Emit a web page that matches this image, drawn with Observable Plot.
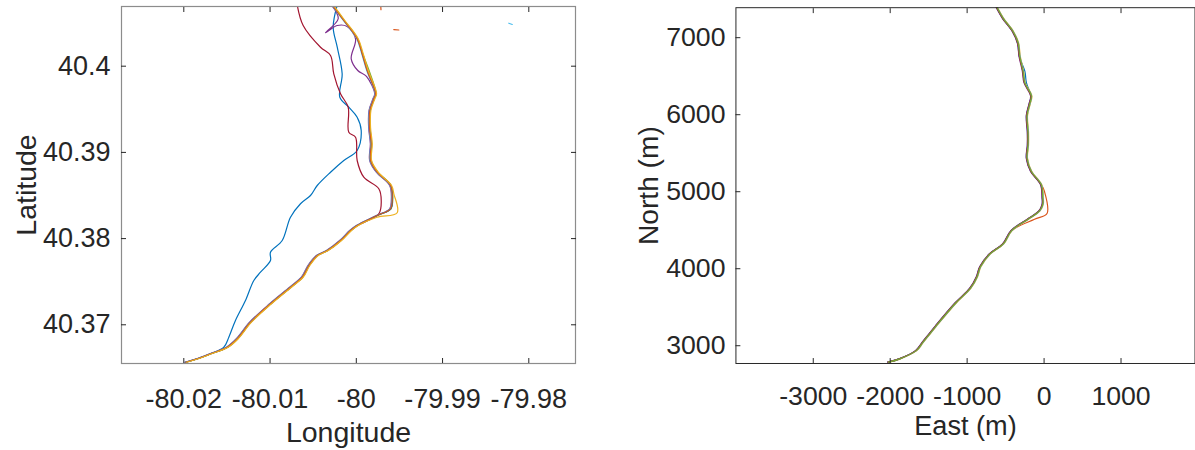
<!DOCTYPE html>
<html><head><meta charset="utf-8">
<script src="https://cdn.jsdelivr.net/npm/d3@7"></script>
<script src="https://cdn.jsdelivr.net/npm/@observablehq/plot@0.6"></script>
<style>
html,body{margin:0;padding:0;background:#fff;overflow:hidden}
#wrap{position:relative;width:1195px;height:450px;overflow:hidden;background:#fff}
#left{position:absolute;left:0;top:0}
#right{position:absolute;left:600px;top:0}
</style></head><body><div id="wrap"><div id="left"></div><div id="right"></div></div>
<script>
// ---------- Left panel: Latitude / Longitude ----------
const lonTicks = [-80.02, -80.01, -80, -79.99, -79.98];
const lonTickLabels = ["-80.02", "-80.01", "-80", "-79.99", "-79.98"];
const latTicks = [40.37, 40.38, 40.39, 40.4];
const latTickLabels = ["40.37", "40.38", "40.39", "40.4"];

const latMain = [40.40710,40.40530,40.40318,40.40144,40.39950,40.39680,40.39622,40.39486,40.39292,40.39100,40.38906,40.38770,40.38616,40.38442,40.38346,40.38268,40.38152,40.38094,40.37978,40.37862,40.37804,40.37688,40.37552,40.37436,40.37244,40.37030,40.36838,40.36740,40.36664,40.36606,40.36566];
const lonOrange = [-80.00279,-80.00145,-79.99990,-79.99932,-79.99874,-79.99777,-79.99797,-79.99843,-79.99847,-79.99827,-79.99835,-79.99758,-79.99603,-79.99584,-79.99603,-79.99758,-79.99990,-80.00067,-80.00183,-80.00337,-80.00453,-80.00551,-80.00627,-80.00763,-80.00995,-80.01227,-80.01381,-80.01497,-80.01690,-80.01845,-80.01980];
const lonGreen = [-80.00273,-80.00139,-79.99984,-79.99926,-79.99852,-79.99771,-79.99791,-79.99837,-79.99841,-79.99821,-79.99829,-79.99752,-79.99597,-79.99578,-79.99597,-79.99752,-79.99984,-80.00061,-80.00177,-80.00331,-80.00447,-80.00545,-80.00621,-80.00757,-80.00989,-80.01221,-80.01375,-80.01491,-80.01684,-80.01839,-80.01974];
const lonLightBlue = [-80.00284,-80.00150,-79.99995,-79.99937,-79.99879,-79.99782,-79.99802,-79.99848,-79.99852,-79.99832,-79.99840,-79.99763,-79.99608,-79.99589,-79.99608,-79.99763,-79.99995,-80.00072,-80.00188,-80.00342,-80.00458,-80.00556,-80.00632,-80.00768,-80.01000,-80.01232,-80.01386,-80.01502,-80.01695,-80.01850,-80.01985];
const lonBlue2 = [-80.00276,-80.00142,-79.99987,-79.99929,-79.99871,-79.99774,-79.99794,-79.99840,-79.99844,-79.99824,-79.99832,-79.99755,-79.99600,-79.99581,-79.99600,-79.99755,-79.99987,-80.00064,-80.00180,-80.00334,-80.00450,-80.00548,-80.00624,-80.00760,-80.00992,-80.01224,-80.01378,-80.01494,-80.01687,-80.01842,-80.01977];
const lonYellow = [-80.00267,-80.00133,-79.99978,-79.99920,-79.99862,-79.99765,-79.99785,-79.99831,-79.99835,-79.99815,-79.99823,-79.99746,-79.99591,-79.99565,-79.99526,-79.99760,-79.99978,-80.00055,-80.00171,-80.00325,-80.00441,-80.00539,-80.00615,-80.00751,-80.00983,-80.01215,-80.01369,-80.01485,-80.01678,-80.01833,-80.01968];
const latYellow = [40.40710,40.40530,40.40318,40.40144,40.39950,40.39680,40.39622,40.39486,40.39292,40.39100,40.38906,40.38770,40.38616,40.38520,40.38300,40.38248,40.38152,40.38094,40.37978,40.37862,40.37804,40.37688,40.37552,40.37436,40.37244,40.37030,40.36838,40.36740,40.36664,40.36606,40.36566];
const lonPurple = [-80.00289,-80.00210,-80.00357,-80.00222,-80.00106,-80.00009,-80.00059,-79.99983,-79.99882,-79.99787,-79.99807,-79.99853,-79.99857,-79.99837,-79.99845,-79.99768,-79.99613,-79.99594,-79.99613,-79.99768,-80.00000,-80.00077,-80.00193,-80.00347,-80.00463,-80.00561,-80.00637,-80.00773,-80.01005,-80.01237,-80.01391,-80.01507,-80.01700,-80.01855,-80.01990];
const latPurple = [40.40710,40.40550,40.40387,40.40472,40.40461,40.40318,40.40086,40.39950,40.39881,40.39680,40.39622,40.39486,40.39292,40.39100,40.38906,40.38770,40.38616,40.38442,40.38346,40.38268,40.38152,40.38094,40.37978,40.37862,40.37804,40.37688,40.37552,40.37436,40.37244,40.37030,40.36838,40.36740,40.36664,40.36606,40.36566];
const lonBlueOut = [-80.00221,-80.00268,-80.00221,-80.00164,-80.00191,-80.00087,-79.99990,-79.99943,-79.99990,-80.00145,-80.00299,-80.00453,-80.00531,-80.00647,-80.00763,-80.00859,-80.00995,-80.00995,-80.01111,-80.01188,-80.01285,-80.01401,-80.01478,-80.01536,-80.01688,-80.01843,-80.01978];
const latBlueOut = [40.40710,40.40452,40.40220,40.39912,40.39640,40.39524,40.39408,40.39254,40.39022,40.38906,40.38770,40.38616,40.38500,40.38404,40.38248,40.37978,40.37842,40.37746,40.37610,40.37514,40.37282,40.37050,40.36856,40.36740,40.36664,40.36606,40.36566];
const lonRed = [-80.00685,-80.00616,-80.00415,-80.00299,-80.00261,-80.00183,-80.00094,-80.00087,-80.00009,-79.99990,-79.99913,-79.99739,-79.99711,-79.99739,-79.99986,-80.00063,-80.00179,-80.00333,-80.00449,-80.00547,-80.00623,-80.00759,-80.00991,-80.01223,-80.01377,-80.01493,-80.01686,-80.01841,-80.01976];
const latRed = [40.40710,40.40472,40.40220,40.40124,40.39912,40.39680,40.39524,40.39234,40.39176,40.38906,40.38712,40.38578,40.38442,40.38288,40.38152,40.38094,40.37978,40.37862,40.37804,40.37688,40.37552,40.37436,40.37244,40.37030,40.36838,40.36740,40.36664,40.36606,40.36566];
// small stray fragments
const lonStrayA = [-79.99716, -79.99714], latStrayA = [40.40690, 40.40655];
const lonStrayB = [-79.99565, -79.99507], latStrayB = [40.40425, 40.40420];
const lonStrayC = [-79.98232, -79.98192], latStrayC = [40.40499, 40.40484];

// ---------- Right panel: East / North (m) ----------
const eastTicks = [-3000, -2000, -1000, 0, 1000];
const eastTickLabels = ["-3000", "-2000", "-1000", "0", "1000"];
const northTicks = [3000, 4000, 5000, 6000, 7000];
const northTickLabels = ["3000", "4000", "5000", "6000", "7000"];

const northMain = [7395,7248,7077,6928,6757,6565,6416,6244,6138,5988,5776,5604,5434,5263,5092,4921,4836,4751,4643,4495,4323,4195,4025,3897,3747,3555,3256,3043,2936,2830,2787];
const eastGreen = [-615,-531,-403,-338,-317,-274,-253,-167,-188,-223,-210,-210,-223,-167,-38,-18,-18,-60,-210,-423,-531,-701,-829,-872,-958,-1150,-1406,-1577,-1663,-1877,-2026];
const eastBlue = [-621,-537,-409,-344,-323,-250,-230,-173,-194,-229,-216,-216,-229,-173,-44,-24,-24,-66,-216,-429,-537,-707,-835,-878,-964,-1156,-1412,-1583,-1669,-1883,-2032];
const eastYellow = [-607,-523,-395,-330,-309,-266,-245,-159,-180,-215,-202,-202,-215,-159,-30,-10,-10,-52,-202,-415,-523,-693,-821,-864,-950,-1142,-1398,-1569,-1655,-1869,-2018];
const eastPurple = [-624,-540,-412,-347,-326,-283,-262,-176,-197,-232,-219,-219,-232,-176,-47,-27,-27,-69,-219,-432,-540,-710,-838,-881,-967,-1159,-1415,-1586,-1672,-1886,-2035];
const eastLightBlue = [-611,-527,-399,-334,-313,-270,-249,-163,-184,-219,-206,-206,-219,-163,-34,-14,-14,-56,-206,-419,-527,-697,-825,-868,-954,-1146,-1402,-1573,-1659,-1873,-2022];
const eastRed = [-618,-534,-406,-341,-320,-277,-256,-170,-191,-226,-213,-213,-226,-170,-41,-21,-21,-63,-213,-426,-534,-704,-832,-875,-961,-1153,-1409,-1580,-1666,-1880,-2029];
const northOrange = [7395,7248,7077,6928,6757,6565,6416,6244,6138,5988,5776,5604,5434,5263,5092,5007,4716,4643,4495,4323,4195,4025,3897,3747,3555,3256,3043,2936,2830,2787];
const eastOrange = [-612,-528,-400,-335,-314,-271,-250,-164,-185,-220,-207,-207,-220,-164,-35,4,38,-124,-420,-528,-698,-826,-869,-955,-1147,-1403,-1574,-1660,-1874,-2023];

// ---------- styling ----------
const C = {blue:"#0072BD", orange:"#D95319", yellow:"#EDB120", purple:"#7E2F8E", green:"#77AC30", lightblue:"#4DBEEE", red:"#A2142F"};
const FONT = "'Liberation Sans', Arial, Helvetica, sans-serif";
const TXT = "#262626";
const TICK_FS = 27, LABEL_FS = 28.5;

function track(xs, ys, color) {
  return Plot.line(xs.map((x, i) => ({x, y: ys[i]})), {x: "x", y: "y", stroke: color, strokeWidth: 1.2, curve: "catmull-rom", clip: true});
}
function lookup(ticks, labels) { return d => labels[ticks.indexOf(d)]; }
const blank = () => "";

const left = Plot.plot({
  width: 600, height: 450,
  marginLeft: 121, marginRight: 25, marginTop: 6, marginBottom: 87,
  style: {fontFamily: FONT, fontSize: TICK_FS + "px", color: TXT, background: "transparent"},
  x: {domain: [-80.027223, -79.974586]},
  y: {domain: [40.365510, 40.406926]},
  marks: [
    track(lonBlueOut, latBlueOut, C.blue),
    track(lonRed, latRed, C.red),
    track(lonPurple, latPurple, C.purple),
    track(lonGreen, latMain, C.green),
    track(lonLightBlue, latMain, C.lightblue),
    track(lonBlue2, latMain, C.blue),
    track(lonOrange, latMain, C.orange),
    track(lonYellow, latYellow, C.yellow),
    track(lonStrayA, latStrayA, C.orange),
    track(lonStrayB, latStrayB, C.orange),
    track(lonStrayC, latStrayC, C.lightblue),
    Plot.frame({stroke: "#8c8c8c", strokeWidth: 1.2}),
    Plot.axisX(lonTicks, {anchor: "bottom", tickSize: 5, dy: -5, tickFormat: blank, label: null, stroke: TXT}),
    Plot.axisX(lonTicks, {anchor: "top", tickSize: 5, dy: 5, tickFormat: blank, label: null, stroke: TXT}),
    Plot.axisY(latTicks, {anchor: "left", tickSize: 5, dx: 5, tickFormat: blank, label: null, stroke: TXT}),
    Plot.axisY(latTicks, {anchor: "right", tickSize: 5, dx: -5, tickFormat: blank, label: null, stroke: TXT}),
    Plot.axisX(lonTicks, {anchor: "bottom", tickSize: 0, tickPadding: 25, tickFormat: lookup(lonTicks, lonTickLabels), label: null, fill: TXT}),
    Plot.axisY(latTicks, {anchor: "left", tickSize: 0, tickPadding: 11, tickFormat: lookup(latTicks, latTickLabels), label: null, fill: TXT}),
    Plot.text(["Longitude"], {frameAnchor: "bottom", dy: 78, lineAnchor: "bottom", textAnchor: "middle", text: d => d, fontSize: LABEL_FS, fill: TXT}),
    Plot.text(["Latitude"], {frameAnchor: "left", dx: -86, rotate: -90, lineAnchor: "bottom", textAnchor: "middle", text: d => d, fontSize: LABEL_FS, fill: TXT})
  ]
});
document.getElementById("left").appendChild(left);

const right = Plot.plot({
  width: 603.2, height: 450,
  marginLeft: 137.3, marginRight: 0.5, marginTop: 7.3, marginBottom: 82,
  style: {fontFamily: FONT, fontSize: TICK_FS + "px", color: TXT, background: "transparent"},
  x: {domain: [-4005.1, 1961.5]},
  y: {domain: [2769.5, 7389.4]},
  marks: [
    track(eastBlue, northMain, C.blue),
    track(eastOrange, northOrange, C.orange),
    track(eastYellow, northMain, C.yellow),
    track(eastPurple, northMain, C.purple),
    track(eastLightBlue, northMain, C.lightblue),
    track(eastRed, northMain, C.red),
    track(eastGreen, northMain, C.green),
    Plot.frame({stroke: "#262626", strokeWidth: 1}),
    Plot.axisX(eastTicks, {anchor: "bottom", tickSize: 5, dy: -5, tickFormat: blank, label: null, stroke: TXT}),
    Plot.axisX(eastTicks, {anchor: "top", tickSize: 5, dy: 5, tickFormat: blank, label: null, stroke: TXT}),
    Plot.axisY(northTicks, {anchor: "left", tickSize: 5, dx: 5, tickFormat: blank, label: null, stroke: TXT}),
    Plot.axisX(eastTicks, {anchor: "bottom", tickSize: 0, tickPadding: 23, tickFormat: lookup(eastTicks, eastTickLabels), label: null, fill: TXT}),
    Plot.axisY(northTicks, {anchor: "left", tickSize: 0, tickPadding: 10.6, tickFormat: lookup(northTicks, northTickLabels), label: null, fill: TXT}),
    Plot.text(["East (m)"], {frameAnchor: "bottom", dy: 73, lineAnchor: "bottom", textAnchor: "middle", text: d => d, fontSize: 27.5, fill: TXT}),
    Plot.text(["North (m)"], {frameAnchor: "left", dx: -79, rotate: -90, lineAnchor: "bottom", textAnchor: "middle", text: d => d, fontSize: LABEL_FS, fill: TXT})
  ]
});
document.getElementById("right").appendChild(right);
</script></body></html>
